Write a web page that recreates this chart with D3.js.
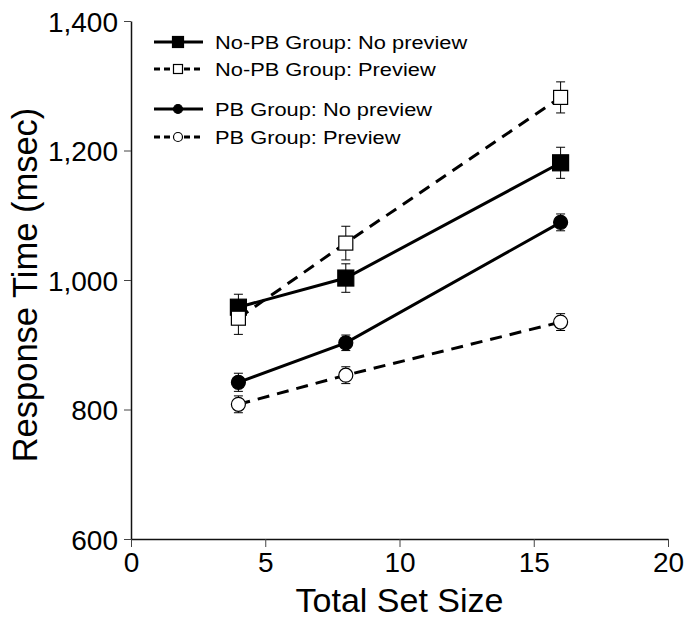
<!DOCTYPE html>
<html>
<head>
<meta charset="utf-8">
<script src="https://cdn.jsdelivr.net/npm/d3@7"></script>
<style>
  body { margin: 0; background: #fff; }
  svg { display: block; font-family: "Liberation Sans", Arial, Helvetica, sans-serif; }
</style>
</head>
<body>
<svg id="chart" width="685" height="619"></svg>
<script>
// data
const setSizes = [4, 8, 16];
const xTicks = [0, 5, 10, 15, 20];
const yTicks = [600, 800, 1000, 1200, 1400];

const noPbNoPreview = [958, 1003, 1181];
const noPbNoPreviewErr = [20, 22, 24];
const noPbPreview = [941, 1057, 1282];
const noPbPreviewErr = [25, 26, 24];
const pbNoPreview = [842, 903, 1089];
const pbNoPreviewErr = [14, 12, 13];
const pbPreview = [808, 853, 935];
const pbPreviewErr = [13, 13, 13];

const seriesNames = [
  'No-PB Group: No preview',
  'No-PB Group: Preview',
  'PB Group: No preview',
  'PB Group: Preview'
];

const series = [
  { name: seriesNames[0], values: noPbNoPreview, err: noPbNoPreviewErr, shape: 'square', filled: true, dashed: false },
  { name: seriesNames[1], values: noPbPreview, err: noPbPreviewErr, shape: 'square', filled: false, dashed: true },
  { name: seriesNames[2], values: pbNoPreview, err: pbNoPreviewErr, shape: 'circle', filled: true, dashed: false },
  { name: seriesNames[3], values: pbPreview, err: pbPreviewErr, shape: 'circle', filled: false, dashed: true }
];

const svg = d3.select('#chart');

const x = d3.scaleLinear().domain([0, 20]).range([131, 668]);
const y = d3.scaleLinear().domain([600, 1400]).range([539, 21]);

// axes
const yAxis = svg.append('g')
  .attr('transform', `translate(${x(0)},0)`)
  .call(d3.axisLeft(y).tickValues(yTicks).tickSize(7).tickSizeOuter(0).tickFormat(d3.format(',')));
const xAxis = svg.append('g')
  .attr('transform', `translate(0,${y(600)})`)
  .call(d3.axisBottom(x).tickValues(xTicks).tickSize(8).tickSizeOuter(0));

[yAxis, xAxis].forEach(g => {
  g.select('.domain').attr('stroke', '#111').attr('stroke-width', 1.5);
  g.selectAll('.tick line').attr('stroke', '#444').attr('stroke-width', 1);
  g.selectAll('.tick text')
    .attr('font-size', 28)
    .attr('font-family', '"Liberation Sans", Arial, sans-serif')
    .attr('fill', '#000');
});
yAxis.selectAll('.tick text').attr('x', -13).attr('dy', '0.36em');
xAxis.selectAll('.tick text').attr('y', 13);

// axis titles
svg.append('text')
  .attr('x', (x(0) + x(20)) / 2)
  .attr('y', 612)
  .attr('text-anchor', 'middle')
  .attr('font-size', 34)
  .text('Total Set Size');

svg.append('text')
  .attr('transform', 'translate(37,285) rotate(-90)')
  .attr('text-anchor', 'middle')
  .attr('font-size', 34.5)
  .text('Response Time (msec)');

const line = d3.line()
  .x((d, i) => x(setSizes[i]))
  .y(d => y(d));

function drawMarker(g, s, cx, cy, size) {
  if (s.shape === 'square') {
    const half = s.filled ? size : size - 1;
    g.append('rect')
      .attr('x', cx - half).attr('y', cy - half)
      .attr('width', half * 2).attr('height', half * 2)
      .attr('fill', s.filled ? '#000' : '#fff')
      .attr('stroke', '#000')
      .attr('stroke-width', 1.2);
  } else {
    g.append('circle')
      .attr('cx', cx).attr('cy', cy)
      .attr('r', size - 1)
      .attr('fill', s.filled ? '#000' : '#fff')
      .attr('stroke', '#000')
      .attr('stroke-width', 1.2);
  }
}

// series: lines, error bars, markers
series.forEach(s => {
  const g = svg.append('g');
  g.append('path')
    .datum(s.values)
    .attr('d', line)
    .attr('fill', 'none')
    .attr('stroke', '#000')
    .attr('stroke-width', 3)
    .attr('stroke-dasharray', s.dashed ? '12,8' : null);

  s.values.forEach((v, i) => {
    const cx = x(setSizes[i]);
    const top = y(v + s.err[i]);
    const bot = y(v - s.err[i]);
    g.append('line').attr('x1', cx).attr('x2', cx).attr('y1', top).attr('y2', bot)
      .attr('stroke', '#000').attr('stroke-width', 1);
    [top, bot].forEach(yy => {
      g.append('line').attr('x1', cx - 4.5).attr('x2', cx + 4.5).attr('y1', yy).attr('y2', yy)
        .attr('stroke', '#000').attr('stroke-width', 1);
    });
  });
  s.values.forEach((v, i) => drawMarker(g, s, x(setSizes[i]), y(v), 8));
});

// legend
const legendRows = [42, 69, 109, 137];
series.forEach((s, i) => {
  const g = svg.append('g').attr('transform', `translate(0,${legendRows[i]})`);
  g.append('line')
    .attr('x1', 154).attr('x2', 203)
    .attr('stroke', '#000').attr('stroke-width', 3)
    .attr('stroke-dasharray', s.dashed ? '6,4' : null);
  drawMarker(g, s, 178, 0, 5.5);
  g.append('text')
    .attr('transform', 'translate(215,0) scale(1.18,1)')
    .attr('dy', '0.36em')
    .attr('font-size', 18.5)
    .text(s.name);
});
</script>
</body>
</html>
